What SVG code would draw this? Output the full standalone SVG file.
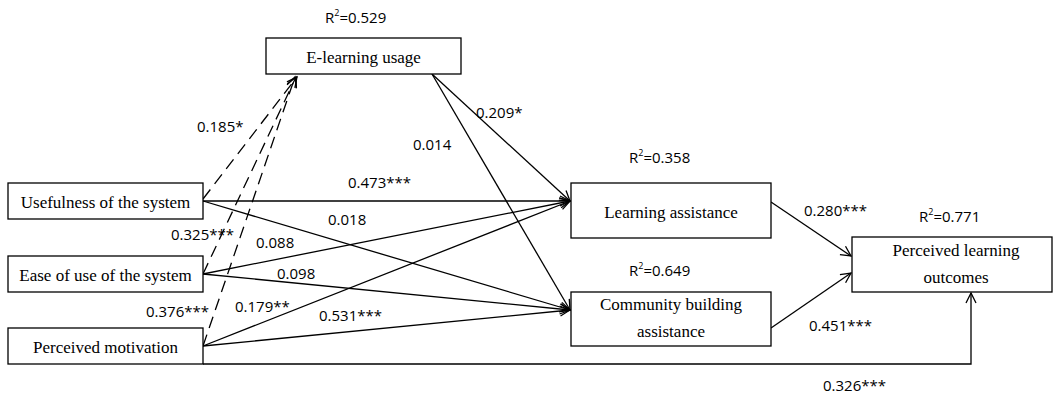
<svg xmlns="http://www.w3.org/2000/svg" width="1053" height="395" viewBox="0 0 1053 395">
<style>
.box{fill:#fff;stroke:#000;stroke-width:1.3}
.c{fill:none;stroke:#000;stroke-width:1.3;marker-end:url(#ah)}
.d{stroke-dasharray:12,7}
</style>
<defs>
<marker id="ah" markerUnits="userSpaceOnUse" markerWidth="14" markerHeight="14" viewBox="-12 -7 14 14" refX="0" refY="0" orient="auto">
<path d="M-10,-5 L0,0 L-10,5" fill="none" stroke="#000" stroke-width="1.3"/>
</marker>
</defs>
<rect width="1053" height="395" fill="#fff"/>
<g id="connectors">
<line class="c" x1="203" y1="201" x2="570" y2="201"/>
<line class="c" x1="203" y1="201" x2="570" y2="310"/>
<line class="c" x1="203" y1="274" x2="570" y2="201"/>
<line class="c" x1="203" y1="274" x2="570" y2="310"/>
<line class="c" x1="203" y1="346" x2="570" y2="201"/>
<line class="c" x1="203" y1="346" x2="570" y2="310"/>
<line class="c" x1="432" y1="74" x2="570" y2="201"/>
<line class="c" x1="432" y1="74" x2="570" y2="310"/>
<line class="c" x1="771" y1="202" x2="851" y2="256"/>
<line class="c" x1="771" y1="328" x2="851" y2="273"/>
<polyline class="c" points="203,364 971,364 971,293"/>
<line class="c d" x1="203" y1="199" x2="297" y2="77"/>
<line class="c d" x1="203" y1="274" x2="296" y2="77"/>
<line class="c d" x1="203" y1="346" x2="295" y2="77"/>
</g>
<g font-family="Liberation Serif, serif" font-size="17" text-anchor="middle" fill="#000">
<g id="n-elearning">
<rect class="box" x="266" y="38" width="195" height="36"/>
<text x="363.5" y="63">E-learning usage</text>
</g>
<g id="n-usefulness">
<rect class="box" x="8" y="183" width="195" height="36"/>
<text x="105.5" y="208">Usefulness of the system</text>
</g>
<g id="n-ease">
<rect class="box" x="8" y="256" width="195" height="36"/>
<text x="105.5" y="281">Ease of use of the system</text>
</g>
<g id="n-motivation">
<rect class="box" x="8" y="328" width="195" height="36"/>
<text x="105.5" y="353">Perceived motivation</text>
</g>
<g id="n-learning">
<rect class="box" x="571" y="183" width="200" height="55"/>
<text x="671" y="218">Learning assistance</text>
</g>
<g id="n-community">
<rect class="box" x="571" y="292" width="200" height="54"/>
<text x="671" y="310">Community building</text>
<text x="671" y="337">assistance</text>
</g>
<g id="n-outcomes">
<rect class="box" x="852" y="237" width="200" height="55"/>
<text x="956" y="256">Perceived learning</text>
<text x="956" y="283">outcomes</text>
</g>
</g>
<g id="labels" font-family="Open Sans, Liberation Sans, sans-serif" font-size="15" fill="#000">
<text x="325" y="23">R<tspan font-size="9" dy="-7">2</tspan><tspan dy="7">=0.529</tspan></text>
<text x="629" y="163">R<tspan font-size="9" dy="-7">2</tspan><tspan dy="7">=0.358</tspan></text>
<text x="629" y="276">R<tspan font-size="9" dy="-7">2</tspan><tspan dy="7">=0.649</tspan></text>
<text x="919" y="222">R<tspan font-size="9" dy="-7">2</tspan><tspan dy="7">=0.771</tspan></text>
<text x="197" y="132">0.185*</text>
<text x="476" y="118">0.209*</text>
<text x="413" y="150">0.014</text>
<text x="348" y="188">0.473***</text>
<text x="328" y="225">0.018</text>
<text x="171" y="240">0.325***</text>
<text x="256" y="248">0.088</text>
<text x="277" y="279">0.098</text>
<text x="146" y="317">0.376***</text>
<text x="235" y="312">0.179**</text>
<text x="319" y="321">0.531***</text>
<text x="804" y="216">0.280***</text>
<text x="809" y="331">0.451***</text>
<text x="823" y="391">0.326***</text>
</g>
</svg>
